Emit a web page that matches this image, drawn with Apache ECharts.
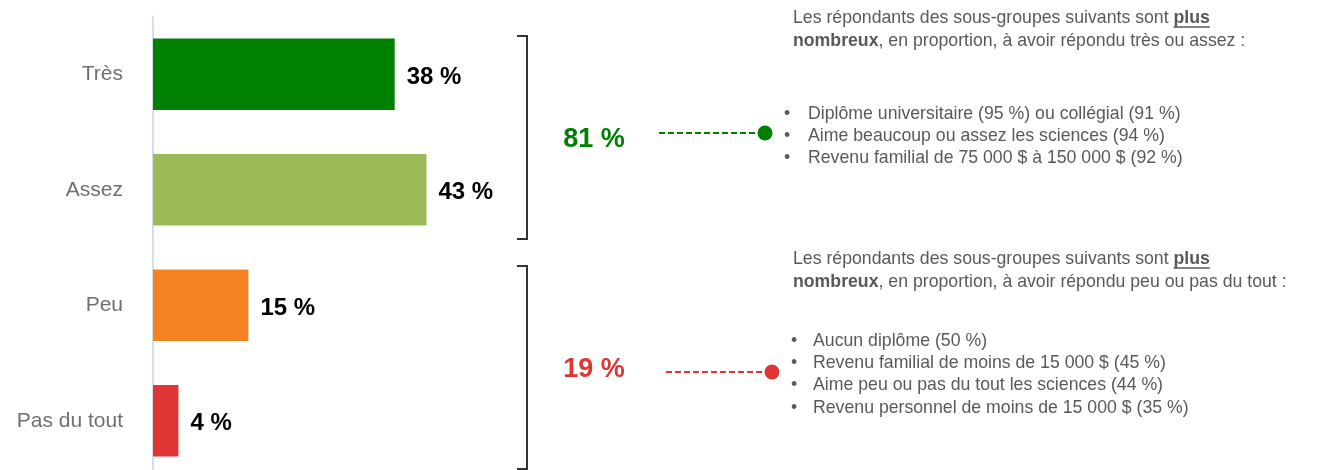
<!DOCTYPE html>
<html>
<head>
<meta charset="utf-8">
<script src="https://cdn.jsdelivr.net/npm/echarts@6/dist/echarts.min.js"></script>
<style>
  html, body { margin: 0; padding: 0; background: #fff; overflow: hidden; }
  #chart { width: 1320px; height: 490px; }
</style>
</head>
<body>
<div id="chart"></div>
<script>
  // données
  const categories = ['Très', 'Assez', 'Peu', 'Pas du tout']
  const values = [38, 43, 15, 4]
  const barColors = ['#008000', '#9bbb59', '#f58322', '#e03535']
  const groupTotals = [81, 19]
  const groupColors = ['#008000', '#e03535']
  const groupNotes = [
    'très ou assez :',
    'peu ou pas du tout :'
  ]
  const topItems = [
    'Diplôme universitaire (95 %) ou collégial (91 %)',
    'Aime beaucoup ou assez les sciences (94 %)',
    'Revenu familial de 75 000 $ à 150 000 $ (92 %)'
  ]
  const bottomItems = [
    'Aucun diplôme (50 %)',
    'Revenu familial de moins de 15 000 $ (45 %)',
    'Aime peu ou pas du tout les sciences (44 %)',
    'Revenu personnel de moins de 15 000 $ (35 %)'
  ]

  const FONT = "'Liberation Sans', Arial, sans-serif"
  const GREY = '#595959'
  const FS = 17.7

  const myChart = echarts.init(document.getElementById('chart'))

  // largeur du mot "plus" pour le soulignement
  const ctx = document.createElement('canvas').getContext('2d')
  ctx.font = FS + 'px ' + FONT
  const introW = ctx.measureText('Les répondants des sous-groupes suivants sont ').width
  ctx.font = 'bold ' + FS + 'px ' + FONT
  const plusW = ctx.measureText('plus').width

  function bracket(y1, y2) {
    return {
      type: 'polyline',
      shape: { points: [[517, y1], [527, y1], [527, y2], [517, y2]] },
      style: { stroke: '#333', lineWidth: 2, fill: null }
    }
  }

  function block(x, y, note, items, bulletX, textX, itemY) {
    const els = [
      {
        type: 'text',
        x: x,
        y: y,
        style: {
          text: 'Les répondants des sous-groupes suivants sont {b|plus}\n{b|nombreux}, en proportion, à avoir répondu ' + note,
          font: FS + 'px ' + FONT,
          fill: GREY,
          lineHeight: 23,
          verticalAlign: 'top',
          rich: { b: { fontWeight: 'bold', fontSize: FS, fill: GREY, lineHeight: 23 } }
        }
      },
      {
        type: 'line',
        shape: { x1: x + introW, y1: y + 20, x2: x + introW + plusW, y2: y + 20 },
        style: { stroke: GREY, lineWidth: 1.5 }
      }
    ]
    items.forEach((t, i) => {
      els.push({
        type: 'text', x: bulletX, y: itemY + i * 22.3,
        style: { text: '•', font: FS + 'px ' + FONT, fill: GREY, verticalAlign: 'middle' }
      })
      els.push({
        type: 'text', x: textX, y: itemY + i * 22.3,
        style: { text: t, font: FS + 'px ' + FONT, fill: GREY, verticalAlign: 'middle' }
      })
    })
    return els
  }

  function total(i, cy, lineY, x1, x2) {
    return [
      {
        type: 'text', x: 594, y: cy,
        style: {
          text: groupTotals[i] + ' %', font: 'bold 27px ' + FONT, fill: groupColors[i],
          align: 'center', verticalAlign: 'middle'
        }
      },
      {
        type: 'line',
        shape: { x1: x1, y1: lineY, x2: x2, y2: lineY },
        style: { stroke: groupColors[i], lineWidth: 2, lineDash: [6, 3] }
      },
      {
        type: 'circle',
        shape: { cx: x2, cy: lineY, r: 7.5 },
        style: { fill: groupColors[i] }
      }
    ]
  }

  const option = {
    backgroundColor: '#fff',
    animation: false,
    textStyle: { fontFamily: FONT },
    grid: { left: 153, top: 16.5, width: 636, height: 462, containLabel: false },
    xAxis: {
      type: 'value',
      min: 0,
      max: 100,
      show: false
    },
    yAxis: {
      type: 'category',
      inverse: true,
      data: categories,
      axisTick: { show: false },
      axisLine: { lineStyle: { color: '#d5deee', width: 2 } },
      axisLabel: { fontSize: 21, color: '#6f6f6f', margin: 30 }
    },
    series: [
      {
        type: 'bar',
        data: values.map((v, i) => ({ value: v, itemStyle: { color: barColors[i] } })),
        barWidth: '62%',
        label: {
          show: true,
          position: 'right',
          distance: 12,
          offset: [0, 3],
          formatter: (params) => params.value + ' %',
          fontSize: 24,
          fontWeight: 'bold',
          color: '#000'
        }
      }
    ],
    graphic: [
      bracket(36, 239),
      bracket(266, 469),
      ...total(0, 140, 133, 659, 765),
      ...total(1, 370, 372, 666, 772),
      ...block(793, 7, groupNotes[0], topItems, 784, 808, 114),
      ...block(793, 248, groupNotes[1], bottomItems, 791, 813, 341)
    ]
  }

  myChart.setOption(option)
</script>
</body>
</html>
